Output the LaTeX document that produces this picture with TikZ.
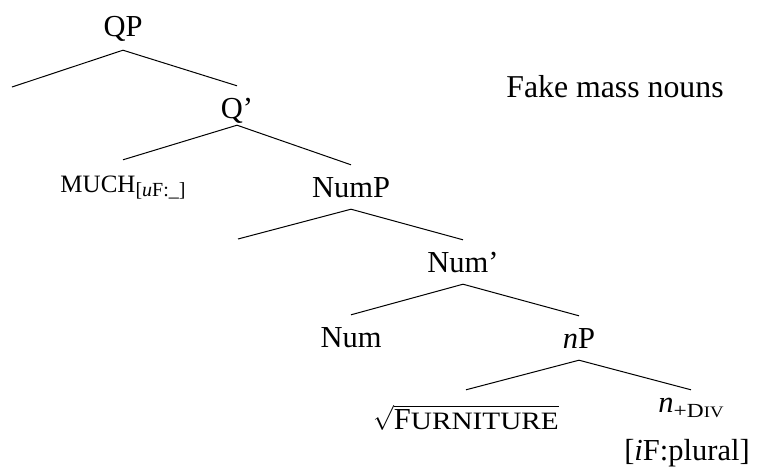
\documentclass[tikz,border=0pt]{standalone}
\usepackage{fontspec}
\setmainfont{Liberation Serif}
\newfontfamily\widecaps[FakeStretch=1.17]{Liberation Serif}
\newcommand\smallcap[2][25]{{\fontsize{#1}{#1}\selectfont #2}}

\tikzset{
  tn/.style={anchor=base, inner sep=0pt, text height=32pt, text depth=12pt},
  branch/.style={line width=1pt},
}

\begin{document}
\begin{tikzpicture}[x=1pt, y=-1pt, font=\fontsize{30.5}{36}\selectfont]
    \useasboundingbox (0,0) rectangle (760,471);
    \node[tn, text depth=14pt] (qp) at (123,36) {QP};
    \coordinate (qp-spec) at (12,87);
    \node[tn, text depth=7pt] (qbar) at (237,118) {Q'};
    \node[tn] (much) at (123,192) {\smallcap{MUCH}\raisebox{-4pt}{\smallcap[20]{[\textit{u}F:\_]}}};
    \node[tn] (nump) at (351,197) {NumP};
    \coordinate (nump-spec) at (238,239);
    \node[tn] (numbar) at (463,272) {Num'};
    \node[tn] (num) at (351,347) {Num};
    \node[tn] (np) at (579,348) {\textit{n}P};
    \node[tn, text height=39pt] (root) at (466,429) {$\sqrt{\hbox{F\smallcap{\widecaps URNITURE}}}$};
    \node[tn, text height=22pt] (ndiv) at (691,412) {\textit{n}\raisebox{-5pt}{\smallcap[20]{\widecaps +D\smallcap[16]{IV}}}};
    \node[tn] (nfeat) at (687,460) {[\textit{i}F:plural]};
    \node[anchor=base, font=\fontsize{31.8}{36}\selectfont] (title) at (615,97) {Fake mass nouns};
    \draw[branch] (qp-spec) -- (qp.south) -- (qbar.north);
    \draw[branch] (much.north) -- (qbar.south) -- (nump.north);
    \draw[branch] (nump-spec) -- (nump.south) -- (numbar.north);
    \draw[branch] (num.north) -- (numbar.south) -- (np.north);
    \draw[branch] (root.north) -- (np.south) -- (ndiv.north);
\end{tikzpicture}
\end{document}
